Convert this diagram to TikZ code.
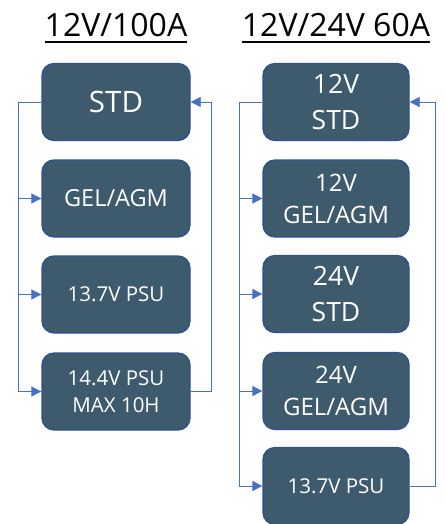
\documentclass[tikz,border=0pt]{standalone}
\usepackage{fontspec}
\setmainfont{Open Sans}
\usetikzlibrary{arrows.meta,calc}
\definecolor{boxfill}{HTML}{3E5B6D}
\definecolor{boxline}{HTML}{2F528F}
\definecolor{conncol}{HTML}{4472C4}
\tikzset{
  box/.style={draw=boxline, fill=boxfill, line width=1.3pt, rounded corners=12pt,
    text=white, align=center, inner sep=0pt},
  lbox/.style={box, minimum width=148pt, minimum height=77pt},
  rbox/.style={box, minimum width=146pt, minimum height=77pt},
  title/.style={inner sep=0pt, font=\fontsize{32}{36}\selectfont},
  conn/.style={draw=conncol, line width=0.8pt},
  arr/.style={conn, -{Triangle[length=10pt,width=10pt]}},
  uline/.style={line width=1.8pt}
}
\begin{document}
\begin{tikzpicture}[x=1pt,y=-1pt]
\useasboundingbox (0,0) rectangle (444,524);
% titles
\node[title, anchor=base] (t1) at (116,37) {12V/100A};
\node[title, anchor=base] (t2) at (336,37) {12V/24V 60A};
\draw[uline] ([yshift=-4.7pt]t1.base west) -- ([yshift=-4.7pt]t1.base east);
\draw[uline] ([yshift=-4.7pt]t2.base west) -- ([yshift=-4.7pt]t2.base east);
% left column
\node[lbox, font=\fontsize{29.5}{36}\selectfont] (a1) at (116,102) {STD};
\node[lbox, font=\fontsize{23.5}{30}\selectfont] (a2) at (116,198.5) {GEL/AGM};
\node[lbox, font=\fontsize{20.5}{27}\selectfont] (a3) at (116,294.5) {13.7V PSU};
\node[lbox, font=\fontsize{20.5}{27.5}\selectfont] (a4) at (116,391.5) {14.4V PSU\\MAX 10H};
% right column
\node[rbox, font=\fontsize{26.5}{36.5}\selectfont] (b1) at (336,102) {12V\\STD};
\node[rbox, font=\fontsize{24}{32}\selectfont] (b2) at (336,198.5) {12V\\GEL/AGM};
\node[rbox, font=\fontsize{26.5}{36.5}\selectfont] (b3) at (336,294) {24V\\STD};
\node[rbox, font=\fontsize{24}{32}\selectfont] (b4) at (336,391) {24V\\GEL/AGM};
\node[rbox, font=\fontsize{20.5}{27}\selectfont] (b5) at (336,486) {13.7V PSU};
% left connectors
\coordinate (LL) at (18,0);
\coordinate (LR) at (211,0);
\draw[arr] (a1.west) -- (a1.west -| LL) |- (a4.west);
\draw[arr] (a2.west -| LL) -- (a2.west);
\draw[arr] (a3.west -| LL) -- (a3.west);
\draw[arr] (a4.east) -- (a4.east -| LR) |- (a1.east);
% right connectors
\coordinate (RL) at (239.5,0);
\coordinate (RR) at (435.5,0);
\draw[arr] (b1.west) -- (b1.west -| RL) |- (b5.west);
\draw[arr] (b2.west -| RL) -- (b2.west);
\draw[arr] (b3.west -| RL) -- (b3.west);
\draw[arr] (b4.west -| RL) -- (b4.west);
\draw[arr] (b5.east) -- (b5.east -| RR) |- (b1.east);
\end{tikzpicture}
\end{document}
